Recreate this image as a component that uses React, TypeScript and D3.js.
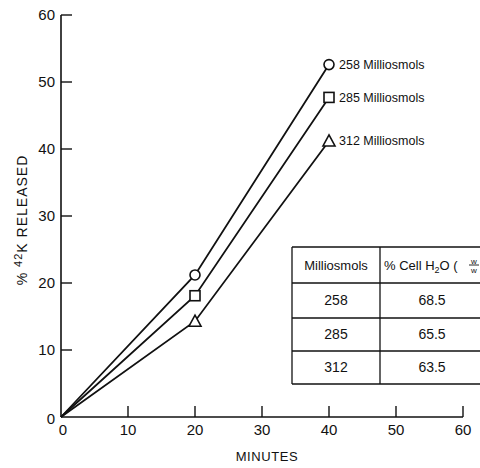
import React from 'react';
import * as d3 from 'd3';

// data
const minutes = [0, 20, 40];
const series258 = [0, 21.2, 52.6];
const series285 = [0, 18.1, 47.7];
const series312 = [0, 14.3, 41.2];
const seriesNames = ['258 Milliosmols', '285 Milliosmols', '312 Milliosmols'];
const markers = ['circle', 'square', 'triangle'];
const xTicks = [0, 10, 20, 30, 40, 50, 60];
const yTicks = [0, 10, 20, 30, 40, 50, 60];
const tableHeader = ['Milliosmols', '% Cell H₂O'];
const tableOsm = ['258', '285', '312'];
const tableWater = ['68.5', '65.5', '63.5'];

const font = '"Liberation Sans", Arial, sans-serif';

const App = () => {
  const width = 480;
  const height = 468;
  const margin = { top: 15, right: 17, bottom: 51, left: 61 };

  const x = d3.scaleLinear().domain([0, 60]).range([margin.left, width - margin.right]);
  const y = d3.scaleLinear().domain([0, 60]).range([height - margin.bottom, margin.top]);

  const allSeries = [series258, series285, series312];
  const line = d3.line<number>()
    .x((_, i) => x(minutes[i]))
    .y(d => y(d));

  const marker = (type: string, cx: number, cy: number, key: string) => {
    if (type === 'circle') {
      return <circle key={key} cx={cx} cy={cy} r={5} fill="#fff" stroke="#111" strokeWidth={1.6} />;
    }
    if (type === 'square') {
      return <rect key={key} x={cx - 5} y={cy - 5} width={10} height={10} fill="#fff" stroke="#111" strokeWidth={1.6} />;
    }
    return (
      <path key={key} d={`M${cx},${cy - 6} L${cx + 6},${cy + 5} L${cx - 6},${cy + 5} Z`}
        fill="#fff" stroke="#111" strokeWidth={1.6} />
    );
  };

  // table geometry
  const tx0 = 292, tx1 = 380, tx2 = 484;
  const rowsY = [247, 283, 318, 351, 384];
  const hy = (rowsY[0] + rowsY[1]) / 2;

  return (
    <svg width={width} height={height} style={{ position: 'absolute', left: 0, top: 0, background: '#fff' }}
      fontFamily={font}>
      {/* axes */}
      <line x1={x(0)} x2={x(0)} y1={y(0)} y2={y(60)} stroke="#111" strokeWidth={1.6} />
      <line x1={x(0)} x2={x(60)} y1={y(0)} y2={y(0)} stroke="#111" strokeWidth={1.6} />
      {yTicks.map(t => (
        <g key={'y' + t}>
          {t > 0 && <line x1={x(0)} x2={x(0) + 11} y1={y(t)} y2={y(t)} stroke="#111" strokeWidth={1.4} />}
          <text x={x(0) - 6} y={y(t) + (t === 0 ? 2 : 0)} dy="0.35em" textAnchor="end" fontSize={15} fill="#111">{t}</text>
        </g>
      ))}
      {xTicks.map(t => (
        <g key={'x' + t}>
          {t > 0 && <line x1={x(t)} x2={x(t)} y1={y(0)} y2={y(0) - 11} stroke="#111" strokeWidth={1.4} />}
          <text x={x(t) + (t === 0 ? 2 : 0)} y={y(0) + 13} dy="0.35em" textAnchor="middle" fontSize={15} fill="#111">{t}</text>
        </g>
      ))}

      {/* axis titles */}
      <text x={267} y={461} textAnchor="middle" fontSize={13} fill="#111" letterSpacing={0.6}>MINUTES</text>
      <text transform={`translate(27, ${220}) rotate(-90)`} textAnchor="middle" fontSize={14} fill="#111"
        letterSpacing={1}>
        % <tspan dy={-5} fontSize={11}>42</tspan><tspan dy={5}>K  RELEASED</tspan>
      </text>

      {/* series */}
      {allSeries.map((s, i) => (
        <g key={'s' + i}>
          <path d={line(s) || ''} fill="none" stroke="#111" strokeWidth={1.8} />
          {s.map((v, j) => j > 0 ? marker(markers[i], x(minutes[j]), y(v), `m${i}-${j}`) : null)}
          <text x={x(40) + 10} y={y(s[2])} dy="0.35em" fontSize={12.5} fill="#111">{seriesNames[i]}</text>
        </g>
      ))}

      {/* inset table */}
      <g stroke="#111" strokeWidth={1.3}>
        {rowsY.map((ry, i) => <line key={'r' + i} x1={tx0} x2={tx2} y1={ry} y2={ry} />)}
        <line x1={tx0} x2={tx0} y1={rowsY[0]} y2={rowsY[4]} />
        <line x1={tx1} x2={tx1} y1={rowsY[0]} y2={rowsY[4]} />
      </g>
      <text x={(tx0 + tx1) / 2} y={hy} dy="0.35em" textAnchor="middle" fontSize={13} fill="#111">
        {tableHeader[0]}
      </text>
      <text x={tx1 + 4} y={hy} dy="0.35em" fontSize={13} fill="#111">
        % Cell H<tspan dy={3} fontSize={9}>2</tspan><tspan dy={-3}>O (</tspan>
      </text>
      <text x={474} y={hy - 1.5} textAnchor="middle" fontSize={8} fill="#111">w</text>
      <line x1={469} x2={479} y1={hy} y2={hy} stroke="#111" strokeWidth={0.9} />
      <text x={474} y={hy + 7.5} textAnchor="middle" fontSize={8} fill="#111">w</text>
      {tableOsm.map((v, i) => (
        <g key={'t' + i}>
          <text x={(tx0 + tx1) / 2} y={(rowsY[i + 1] + rowsY[i + 2]) / 2} dy="0.35em" textAnchor="middle" fontSize={14} fill="#111">{v}</text>
          <text x={432} y={(rowsY[i + 1] + rowsY[i + 2]) / 2} dy="0.35em" textAnchor="middle" fontSize={14} fill="#111">{tableWater[i]}</text>
        </g>
      ))}
    </svg>
  );
};

export default App;
